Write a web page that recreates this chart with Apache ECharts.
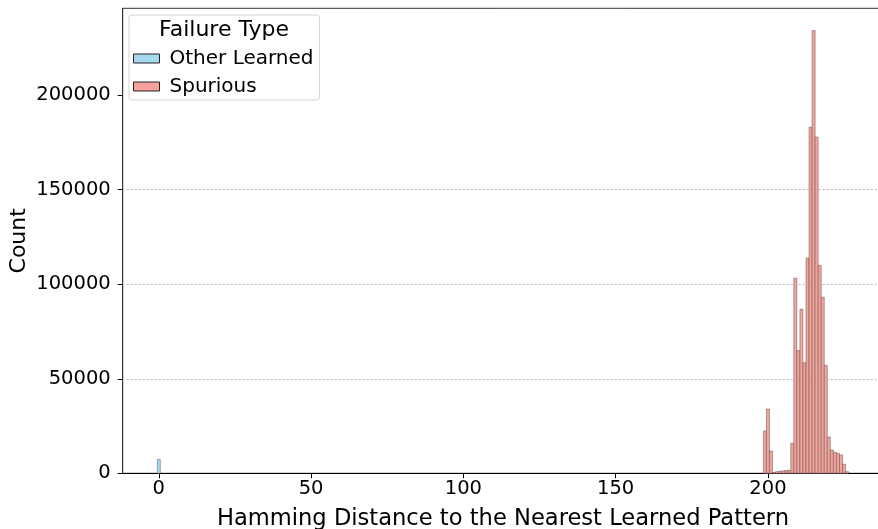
<!DOCTYPE html>
<html>
<head>
<meta charset="utf-8">
<script src="https://cdn.jsdelivr.net/npm/echarts@6/dist/echarts.min.js"></script>
<style>
  html, body { margin: 0; padding: 0; background: #fff; }
  #chart { width: 878px; height: 529px; }
</style>
</head>
<body>
<div id="chart"></div>
<script>
// Histogram bins (integer Hamming distances, width 1) and their counts
const otherLearnedBins = [0];
const otherLearnedCounts = [7300];

const spuriousBins = [199, 200, 201, 202, 203, 204, 205, 206, 207, 208, 209, 210, 211, 212,
  213, 214, 215, 216, 217, 218, 219, 220, 221, 222, 223, 224, 225, 226];
const spuriousCounts = [22400, 34000, 11800, 400, 900, 1100, 1300, 1500, 1600, 15900, 103200,
  64900, 86800, 58500, 113800, 183100, 234200, 177800, 110000, 93100, 57100, 19200, 12300,
  11100, 10600, 9700, 4800, 850];

const xTicks = [0, 50, 100, 150, 200];
const yTicks = [0, 50000, 100000, 150000, 200000];

const seriesNames = ['Other Learned', 'Spurious'];
const seriesFills = ['#a6d8ee', '#f7a39b'];

const FONT = 'DejaVu Sans';

function pairs(bins, counts) {
  return bins.map((b, i) => [b, counts[i]]);
}

// Each bin is a rectangle spanning [x-0.5, x+0.5] from 0 up to its count
function makeRender(fill) {
  return function (params, api) {
    const x = api.value(0), y = api.value(1);
    const p0 = api.coord([x - 0.5, y]);
    const p1 = api.coord([x + 0.5, 0]);
    return {
      type: 'rect',
      shape: { x: p0[0], y: p0[1], width: p1[0] - p0[0], height: p1[1] - p0[1] },
      style: { fill: fill, stroke: 'rgba(70,70,70,0.55)', lineWidth: 0.8 }
    };
  };
}

const allCounts = otherLearnedCounts.concat(spuriousCounts);
const allBins = otherLearnedBins.concat(spuriousBins);
const yMax = Math.max(...allCounts) * 1.05;
const xLo = Math.min(...allBins) - 0.5, xHi = Math.max(...allBins) + 0.5;
const xPad = (xHi - xLo) * 0.05;

const chart = echarts.init(document.getElementById('chart'), null, { renderer: 'canvas' });

chart.setOption({
  animation: false,
  backgroundColor: '#ffffff',
  textStyle: { fontFamily: FONT },
  grid: {
    left: 122.7, top: 8.3, bottom: 55.7, right: -5.2,
    show: true, borderColor: '#333', borderWidth: 1, backgroundColor: 'transparent',
    containLabel: false,
    outerBoundsMode: 'none'
  },
  xAxis: {
    type: 'value',
    min: xLo - xPad,
    max: xHi + xPad,
    name: 'Hamming Distance to the Nearest Learned Pattern',
    nameLocation: 'middle',
    nameGap: 34,
    nameMoveOverlap: false,
    nameTextStyle: { fontFamily: FONT, fontSize: 22.6, color: '#000' },
    axisLine: { show: true, onZero: false, lineStyle: { color: '#000', width: 1 } },
    axisTick: { show: true, length: 5, lineStyle: { color: '#000' }, customValues: xTicks },
    axisLabel: {
      fontFamily: FONT, fontSize: 19.5, color: '#000', margin: 6, customValues: xTicks,
      formatter: v => String(v)
    },
    splitLine: { show: false }
  },
  yAxis: {
    type: 'value',
    min: 0,
    max: yMax,
    interval: 50000,
    name: 'Count',
    nameLocation: 'middle',
    nameGap: 92,
    nameMoveOverlap: false,
    nameTextStyle: { fontFamily: FONT, fontSize: 22, color: '#000' },
    axisLine: { show: true, onZero: false, lineStyle: { color: '#333', width: 1 } },
    axisTick: { show: true, length: 5, lineStyle: { color: '#000' }, customValues: yTicks },
    axisLabel: {
      fontFamily: FONT, fontSize: 19.5, color: '#000', margin: 12, customValues: yTicks,
      formatter: v => String(v)
    },
    splitLine: {
      show: true, showMinLine: false, showMaxLine: false,
      lineStyle: { color: '#b8b8b8', type: [2, 2], width: 1 }
    }
  },
  legend: {
    orient: 'vertical',
    left: 133,
    top: 48,
    padding: 0,
    z: 10,
    itemWidth: 26,
    itemHeight: 9,
    itemGap: 7,
    icon: 'rect',
    inactiveColor: '#ccc',
    textStyle: { fontFamily: FONT, fontSize: 20, color: '#000', lineHeight: 21, padding: [0, 0, 0, 5] },
    data: seriesNames.map((n, i) => ({
      name: n,
      itemStyle: { color: seriesFills[i], borderColor: '#222', borderWidth: 1 }
    }))
  },
  graphic: [
    {
      type: 'rect', z: 3, silent: true,
      shape: { x: 129, y: 15, width: 190.5, height: 85, r: 3 },
      style: { fill: 'rgba(255,255,255,0.85)', stroke: '#d6d6d6', lineWidth: 1 }
    },
    {
      type: 'text', z: 11, silent: true,
      style: {
        x: 224, y: 30, text: 'Failure Type', fontFamily: FONT, fontSize: 22,
        fill: '#000', align: 'center', verticalAlign: 'middle'
      }
    }
  ],
  series: [
    {
      name: seriesNames[0], type: 'custom',
      renderItem: makeRender(seriesFills[0]),
      itemStyle: { color: seriesFills[0] },
      encode: { x: 0, y: 1 },
      data: pairs(otherLearnedBins, otherLearnedCounts)
    },
    {
      name: seriesNames[1], type: 'custom',
      renderItem: makeRender(seriesFills[1]),
      itemStyle: { color: seriesFills[1] },
      encode: { x: 0, y: 1 },
      data: pairs(spuriousBins, spuriousCounts)
    }
  ]
});
</script>
</body>
</html>
